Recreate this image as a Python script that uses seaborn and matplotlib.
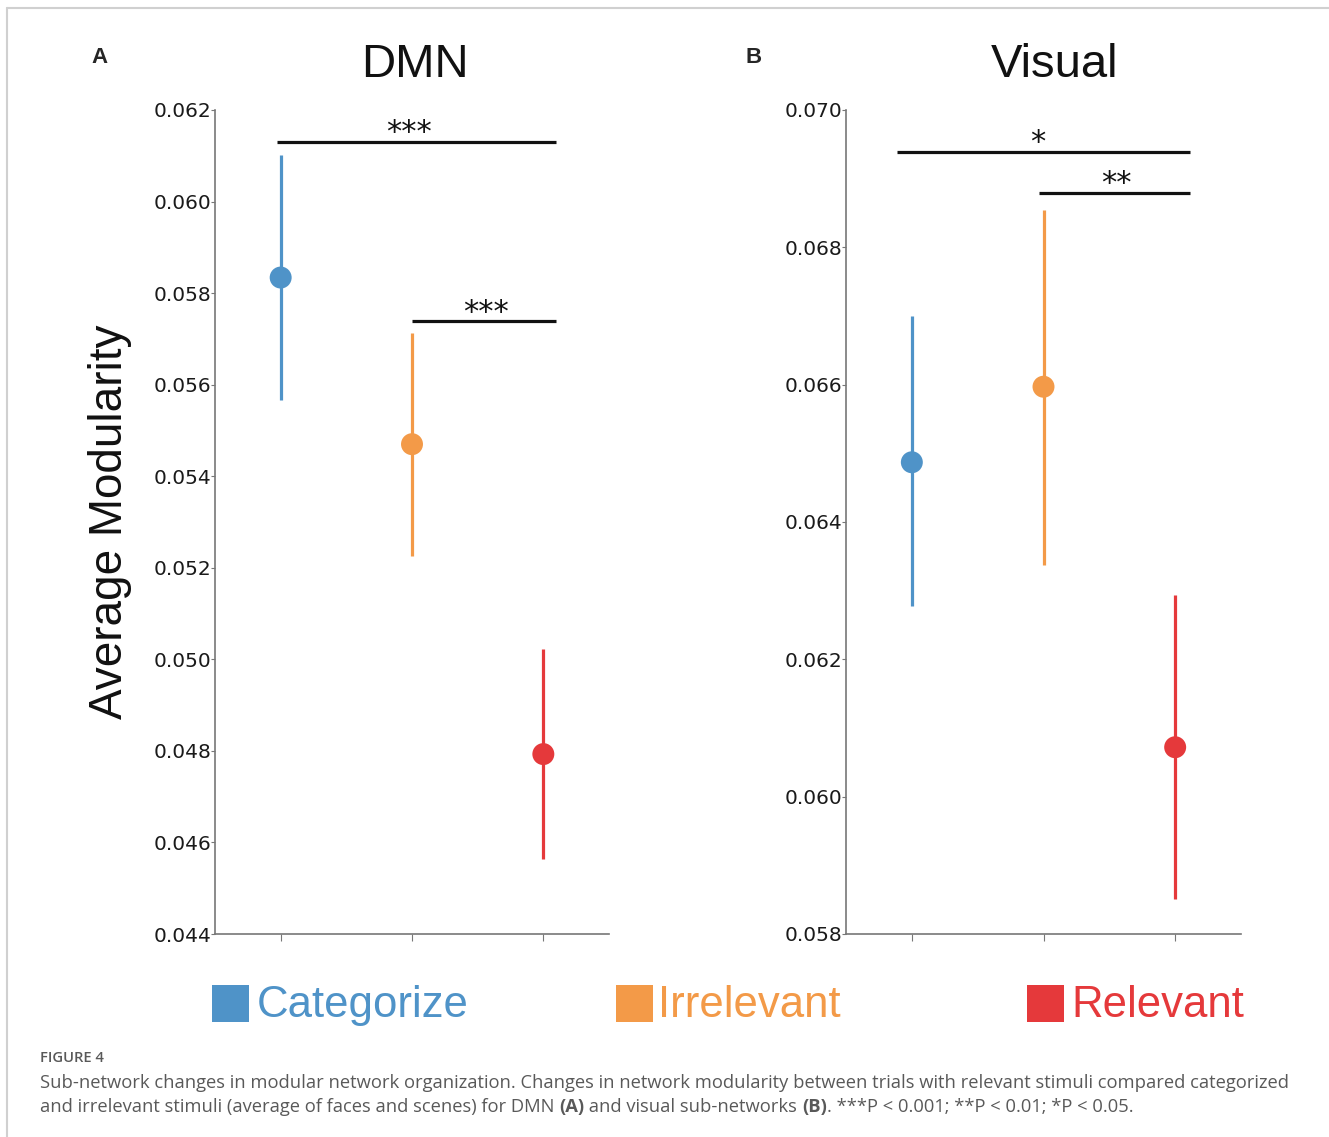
import matplotlib
matplotlib.use("Agg")
import matplotlib.pyplot as plt
import seaborn as sns
import numpy as np
from matplotlib import font_manager
from matplotlib.lines import Line2D
from matplotlib.patches import Rectangle

# ---------------- data ----------------
conditions = ["Categorize", "Irrelevant", "Relevant"]
colors = ["#4F93C8", "#F39A48", "#E5393B"]

dmn_mean = [0.05834, 0.05470, 0.04793]
dmn_upper = [0.06102, 0.05712, 0.05022]
dmn_lower = [0.05567, 0.05226, 0.04564]

vis_mean = [0.06487, 0.06597, 0.06072]
vis_upper = [0.06700, 0.06855, 0.06293]
vis_lower = [0.06277, 0.06337, 0.05851]

dmn_yticks = [0.044, 0.046, 0.048, 0.050, 0.052, 0.054, 0.056, 0.058, 0.060, 0.062]
vis_yticks = [0.058, 0.060, 0.062, 0.064, 0.066, 0.068, 0.070]

# significance brackets: (x_start, x_end, y, label, label_x)
dmn_sig = [(-0.03, 2.10, 0.06130, "***", 0.98), (1.00, 2.10, 0.05738, "***", 1.56)]
vis_sig = [(-0.11, 2.11, 0.06939, "*", 0.96), (0.964, 2.11, 0.06879, "**", 1.55)]

# ---------------- style ----------------
sns.set_style("ticks")
plt.rcParams["font.family"] = ["DejaVu Sans"]
names = {f.name for f in font_manager.fontManager.ttflist}
narrow = "Liberation Sans Narrow" if "Liberation Sans Narrow" in names else "Liberation Sans"
capfont = "Open Sans" if "Open Sans" in names else "DejaVu Sans"

W, H = 1329, 1137
fig = plt.figure(figsize=(W / 100, H / 100), dpi=100)

def fx(px):
    return px / W

def fy(py):
    return 1 - py / H

axA = fig.add_axes([fx(215), fy(934), fx(609) - fx(215), fy(110) - fy(934)])
axB = fig.add_axes([fx(846), fy(934), fx(1241) - fx(846), fy(110) - fy(934)])

spine_col = "#777777"

def panel(ax, mean, lower, upper, yticks, sig):
    sns.scatterplot(x=conditions, y=mean, hue=conditions, palette=colors,
                    s=250, linewidth=0, legend=False, ax=ax, zorder=3)
    ax.vlines(np.arange(len(conditions)), lower, upper, colors=colors,
              linewidth=2.3, zorder=2)
    ax.set_xlim(-0.5, 2.5)
    ax.set_ylim(yticks[0], yticks[-1])
    ax.set_yticks(yticks)
    ax.set_yticklabels([f"{t:.3f}" for t in yticks], fontsize=14.5, color="#1a1a1a")
    ax.set_xticks(range(len(conditions)))
    ax.set_xticklabels([])
    ax.tick_params(axis="y", length=3, width=0.8, color=spine_col, pad=-0.5)
    ax.tick_params(axis="x", length=5, width=0.8, color=spine_col)
    for side in ["top", "right"]:
        ax.spines[side].set_visible(False)
    for side in ["left", "bottom"]:
        ax.spines[side].set_color(spine_col)
        ax.spines[side].set_linewidth(1.2)
    ax.set_xlabel("")
    ax.set_ylabel("")
    for x0, x1, y, lab, lx in sig:
        ax.plot([x0, x1], [y, y], color="#111111", linewidth=2.3, solid_capstyle="butt",
                zorder=4, clip_on=False)
        ax.annotate(lab, xy=(lx, y), xytext=(0, 0.5), textcoords="offset points",
                    ha="center", va="baseline", fontsize=22, color="#111111")

panel(axA, dmn_mean, dmn_lower, dmn_upper, dmn_yticks, dmn_sig)
panel(axB, vis_mean, vis_lower, vis_upper, vis_yticks, vis_sig)

# titles
fig.text(fx(415), fy(77), "DMN", ha="center", va="baseline", fontsize=34,
         family=[narrow, "Liberation Sans"], color="#111111")
fig.text(fx(1055), fy(77), "Visual", ha="center", va="baseline", fontsize=34,
         family=[narrow, "Liberation Sans"], color="#111111")
# panel letters
fig.text(fx(100), fy(63), "A", ha="center", va="baseline", fontsize=16, fontweight="bold",
         family=["Liberation Sans"])
fig.text(fx(754), fy(63), "B", ha="center", va="baseline", fontsize=16, fontweight="bold",
         family=["Liberation Sans"])
# y label
fig.text(fx(110), fy(522), "Average Modularity", rotation=90, ha="center", va="center",
         fontsize=33, family=["Liberation Sans"], color="#111111")

# legend
leg_items = [(212, 257), (616, 658), (1027, 1071)]
for (sx, tx), lab, col in zip(leg_items, conditions, colors):
    fig.add_artist(Rectangle((fx(sx), fy(1022)), fx(37), 37 / H, transform=fig.transFigure,
                             facecolor=col, edgecolor="none"))
    fig.text(fx(tx), fy(1017), lab, ha="left", va="baseline", fontsize=31.5,
             family=[narrow, "Liberation Sans"], color=col)

# border
fig.add_artist(Line2D([fx(7), 1], [fy(8), fy(8)], transform=fig.transFigure,
                      color="#d0d0d0", linewidth=1.5))
fig.add_artist(Line2D([fx(7), fx(7)], [0, fy(8)], transform=fig.transFigure,
                      color="#d0d0d0", linewidth=1.5))

# caption
cap_col = "#595959"
fig.text(fx(40), fy(1062), "FIGURE 4", ha="left", va="baseline", fontsize=10.6,
         fontweight="semibold", family=[capfont], color=cap_col)

renderer = fig.canvas.get_renderer()

def rich(x, y, segments, size):
    for s, weight in segments:
        t = fig.text(x, y, s, ha="left", va="baseline", fontsize=size, fontweight=weight,
                     family=[capfont], color=cap_col)
        bb = t.get_window_extent(renderer)
        x = fig.transFigure.inverted().transform((bb.x1, bb.y0))[0]

cap_size = 13.2
rich(fx(40), fy(1088), [("Sub-network changes in modular network organization. Changes in network "
                         "modularity between trials with relevant stimuli compared categorized",
                         "normal")], cap_size)
rich(fx(40), fy(1112), [("and irrelevant stimuli (average of faces and scenes) for DMN\u00a0", "normal"),
                        ("(A)", "bold"),
                        ("\u00a0and visual sub-networks\u00a0", "normal"),
                        ("(B)", "bold"),
                        (". ***P < 0.001; **P < 0.01; *P < 0.05.", "normal")], cap_size)

fig.savefig("out.png", dpi=100, facecolor="white")
